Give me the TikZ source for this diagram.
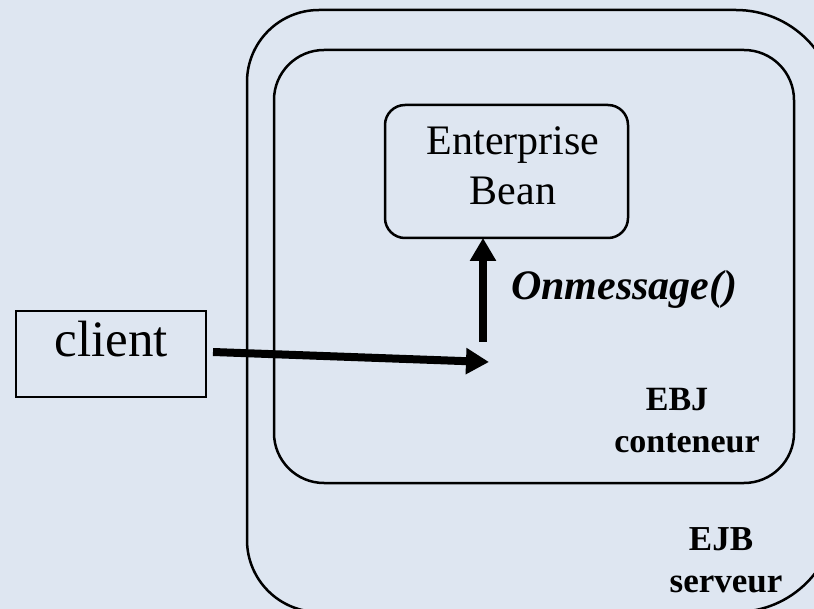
\documentclass[tikz,border=0pt]{standalone}
\usepackage{fontspec}
\setmainfont{Liberation Serif}
\usetikzlibrary{arrows.meta}
\definecolor{bg}{RGB}{222,230,241}
\begin{document}
\begin{tikzpicture}[x=1pt,y=-1pt,
  frame/.style={draw, line width=2.5pt},
  plainbox/.style={draw, line width=2.5pt, inner sep=0pt, outer sep=0pt},
  flow/.style={line width=8pt, -{Triangle[length=23pt,width=25pt]}},
  lbl/.style={anchor=base, inner sep=0pt, outer sep=0pt},
  big/.style={font=\fontsize{42}{50}\selectfont},
  tag/.style={font=\bfseries\fontsize{34}{40}\selectfont},
]
\fill[bg] (0,0) rectangle (814,609);
\begin{scope}
\clip (0,0) rectangle (814,609);

% server frame: wider rounding on the right-hand corners
\draw[frame] (540,10) [rounded corners=100pt] -- (836,10) -- (836,612) -- (540,612)
  [rounded corners=72pt] -- (247,612) -- (247,10) -- cycle;
% container frame
\draw[frame, rounded corners=50pt] (274,50) rectangle (794,483);
\coordinate (server) at (541,311);
\coordinate (container) at (534,266.5);

% the bean
\node[plainbox, rounded corners=20pt, minimum width=243pt, minimum height=133pt] (bean) at (506.5,171.5) {};
\node[lbl, big] (beanA) at (513,155) {Enterprise};
\node[lbl, big] (beanB) at (513,205) {Bean};

% the client
\node[plainbox, minimum width=190pt, minimum height=86pt] (client) at (111,354) {};
\node[lbl, font=\fontsize{51}{60}\selectfont] (clienttxt) at (111,357) {client};

% message path
\coordinate (recv) at (489,362);
\coordinate (turn) at (483,342);
\draw[flow] ([xshift=7pt,yshift=2pt]client.east) -- (recv);
\draw[flow] (turn) -- (turn |- bean.south);

% labels
\node[lbl, anchor=base west, font=\bfseries\itshape\fontsize{42}{50}\selectfont] (call) at (511,300) {Onmessage()};
\node[lbl, tag] (contA) at (677,410) {EBJ};
\node[lbl, tag] (contB) at (687,453) {conteneur};
\node[lbl, tag, font=\bfseries\fontsize{35}{41}\selectfont] (servA) at (721,550) {EJB};
\node[lbl, tag, font=\bfseries\fontsize{35}{41}\selectfont] (servB) at (726,592) {serveur};
\end{scope}
% the page is exactly the visible area
\pgfresetboundingbox
\useasboundingbox (0,0) rectangle (814,609);
\end{tikzpicture}
\end{document}
